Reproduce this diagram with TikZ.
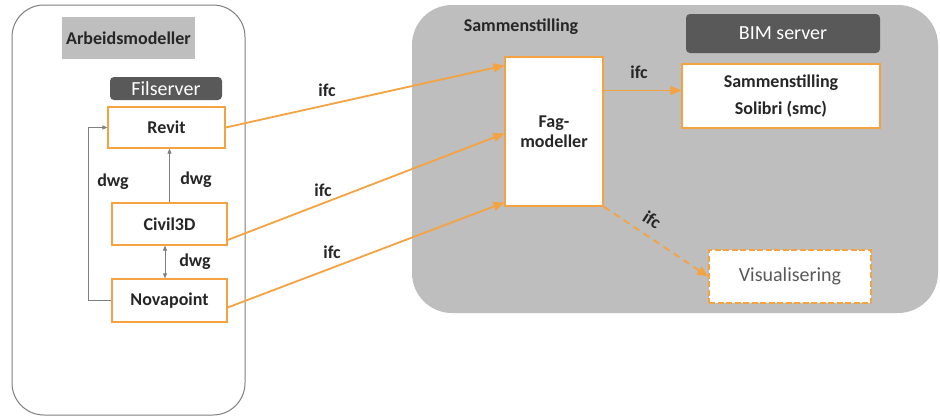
\documentclass[tikz,border=0pt]{standalone}
\usepackage{fontspec}
\setmainfont{Carlito}
\usetikzlibrary{arrows.meta}
\definecolor{boxorange}{HTML}{F4A340}
\definecolor{panelgray}{HTML}{BEBEBE}
\definecolor{servergray}{HTML}{595959}
\definecolor{framegray}{HTML}{7F7F7F}
\definecolor{labeltext}{HTML}{262626}
\begin{document}
\begin{tikzpicture}[x=1pt,y=-1pt,
  modelbox/.style={draw=boxorange,line width=1.3pt,fill=white,minimum width=115pt,minimum height=42pt,inner sep=0pt,text=labeltext,font=\fontsize{18}{20}\selectfont\bfseries},
  serverbox/.style={fill=servergray,rounded corners=4pt,inner sep=0pt,text=white,font=\fontsize{20}{22}\selectfont},
  flowtext/.style={inner sep=1pt,text=labeltext,font=\fontsize{18}{20}\selectfont\bfseries},
  ifcarrow/.style={draw=boxorange,line width=1.8pt,-{Triangle[length=11pt,width=9pt]}},
  dwgarrow/.style={draw=framegray,line width=0.8pt,-{Triangle[length=5pt,width=4pt]}},
  dwgboth/.style={dwgarrow,{Triangle[length=5pt,width=4pt]}-{Triangle[length=5pt,width=4pt]}}]
\useasboundingbox (0,0) rectangle (940,418);
\fill[white] (0,0) rectangle (940,418);
\draw[framegray,line width=1pt,rounded corners=32pt] (12,5) rectangle (245,415);
\fill[panelgray,rounded corners=40pt] (412,5) rectangle (938,313);
\node[fill=panelgray,minimum width=133pt,minimum height=42pt,flowtext] (arbeid) at (128.5,38) {Arbeidsmodeller};
\node[serverbox,minimum width=112pt,minimum height=23pt] (filserver) at (166,88.5) {Filserver};
\node[modelbox,minimum width=117pt,minimum height=41pt] (revit) at (166.5,127.5) {Revit};
\node[modelbox] (civil) at (169.5,224) {Civil3D};
\node[modelbox,minimum height=43pt] (nova) at (169.5,300.5) {Novapoint};
\node[flowtext] (samtitle) at (521,27) {Sammenstilling};
\node[modelbox,minimum width=98pt,minimum height=149pt,align=center] (fag) at (554,131.5) {Fag-\\modeller};
\node[serverbox,minimum width=194pt,minimum height=39pt] (bim) at (783,33.5) {BIM server};
\node[modelbox,minimum width=198pt,minimum height=64pt,align=center] (solibri) at (781,96) {Sammenstilling\\[7pt]Solibri (smc)};
\node[modelbox,line width=1.6pt,dash pattern=on 6pt off 2.5pt,minimum width=162pt,minimum height=53pt,text=servergray,font=\fontsize{20}{22}\selectfont] (visual) at (790,276.5) {Visualisering};
\draw[dwgarrow] (civil.north) -- (civil.north |- revit.south);
\draw[dwgboth] ([xshift=-4.5pt]civil.south) -- ([xshift=-4.5pt]civil.south |- nova.north);
\draw[dwgarrow] (nova.west) -- ++(-23,0) |- (revit.west);
\node[flowtext] (dwgup) at (196,180) {dwg};
\node[flowtext] (dwgloop) at (113,182) {dwg};
\node[flowtext] (dwgdown) at (195,262) {dwg};
\draw[ifcarrow] (revit.east) -- ([yshift=66pt]fag.west);
\draw[ifcarrow] ([yshift=-16pt]civil.east) -- ([yshift=-2pt]fag.west);
\draw[ifcarrow] ([yshift=-7pt]nova.east) -- ([yshift=-71pt]fag.west);
\draw[ifcarrow] ([yshift=41pt]fag.east) -- ([yshift=41pt]fag.east -| solibri.west);
\draw[ifcarrow,dash pattern=on 7pt off 5pt] (fag.south east) -- (visual.west);
\node[flowtext] (ifcrevit) at (327,90) {ifc};
\node[flowtext] (ifccivil) at (323,190) {ifc};
\node[flowtext] (ifcnova) at (332,252) {ifc};
\node[flowtext] (ifcsolibri) at (639,72) {ifc};
\node[flowtext,rotate=-33] (ifcvisual) at (652,220) {ifc};
\end{tikzpicture}
\end{document}
